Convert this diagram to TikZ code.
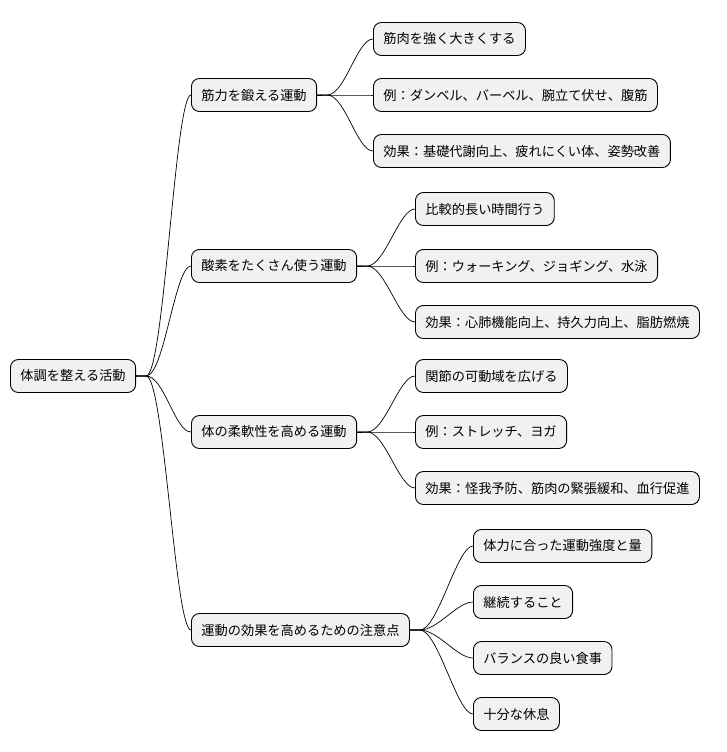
\documentclass[tikz,border=0pt]{standalone}
\usepackage{fontspec}
\setmainfont{Noto Sans CJK JP}
\definecolor{bx}{RGB}{241, 241, 241}

\begin{document}
\begin{tikzpicture}[x=1pt,y=1pt,
  every node/.style={font=\fontsize{13.2}{15}\selectfont},
  box/.style={draw=black, fill=bx, rounded corners=8pt, line width=0.9pt, anchor=west, minimum height=33pt, inner xsep=10pt},
  link/.style={line width=0.7pt}]
\useasboundingbox (0,0) rectangle (726,-752);
\node (root) [box] at (10, -376) {体調を整える活動};
\node (a) [box] at (191, -95) {筋力を鍛える運動};
\node (b) [box] at (191, -266) {酸素をたくさん使う運動};
\node (c) [box] at (191, -432) {体の柔軟性を高める運動};
\node (d) [box] at (191, -630) {運動の効果を高めるための注意点};
\node (a1) [box] at (373, -39) {筋肉を強く大きくする};
\node (a2) [box] at (373, -95) {例：ダンベル、バーベル、腕立て伏せ、腹筋};
\node (a3) [box] at (373, -151) {効果：基礎代謝向上、疲れにくい体、姿勢改善};
\node (b1) [box] at (415, -209) {比較的長い時間行う};
\node (b2) [box] at (415, -266) {例：ウォーキング、ジョギング、水泳};
\node (b3) [box] at (415, -322) {効果：心肺機能向上、持久力向上、脂肪燃焼};
\node (c1) [box] at (415, -376) {関節の可動域を広げる};
\node (c2) [box] at (415, -432) {例：ストレッチ、ヨガ};
\node (c3) [box] at (415, -488) {効果：怪我予防、筋肉の緊張緩和、血行促進};
\node (d1) [box] at (473, -546) {体力に合った運動強度と量};
\node (d2) [box] at (473, -602) {継続すること};
\node (d3) [box] at (473, -658) {バランスの良い食事};
\node (d4) [box] at (473, -714) {十分な休息};
% connectors
\foreach \p/\c in {root/a, root/b, root/c, root/d,
  a/a1, a/a2, a/a3, b/b1, b/b2, b/b3, c/c1, c/c2, c/c3,
  d/d1, d/d2, d/d3, d/d4}
  \draw [link] (\p.east) -- ++(10pt,0) .. controls +(18pt,0) and +(-16pt,0) .. (\c.west);
\end{tikzpicture}
\end{document}
